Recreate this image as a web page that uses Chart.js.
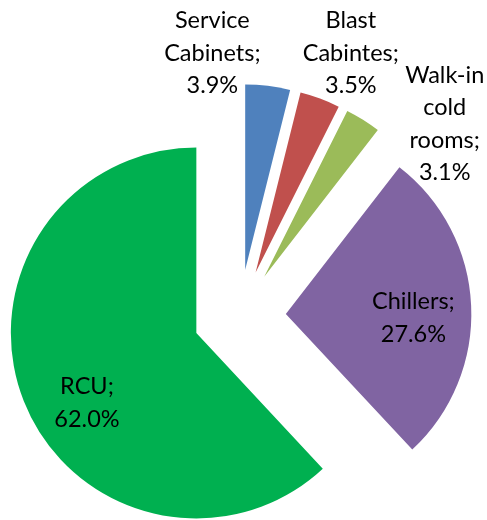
<!DOCTYPE html>
<html>
<head>
<meta charset="utf-8">
<script src="https://cdn.jsdelivr.net/npm/chart.js@4.4.1/dist/chart.umd.min.js"></script>
<style>
  html, body { margin: 0; padding: 0; background: #fff; }
  canvas { display: block; }
</style>
</head>
<body>
<canvas id="pieChart" width="487" height="520"></canvas>
<script>
// data
const categories = ['Service Cabinets', 'Blast Cabintes', 'Walk-in cold rooms', 'Chillers', 'RCU'];
const shares = [3.9, 3.5, 3.1, 27.6, 62.0];
const sliceColors = ['#4F81BD', '#C0504D', '#9BBB59', '#8064A2', '#00B050'];
// label text split in lines the way the picture wraps it
const labelLines = [
    ['Service', 'Cabinets;'],
    ['Blast', 'Cabintes;'],
    ['Walk-in', 'cold', 'rooms;'],
    ['Chillers;'],
    ['RCU;']
];

// every slice is pulled out by 25% of the radius
const explodeShare = 0.25;
// label spot: [angle clockwise from 12 o'clock, distance as part of radius] from the slice tip
const labelPlacement = [[351.4, 1.183], [23.45, 1.29], [49.75, 1.275], [91.8, 0.688], [237.4, 0.7]];
const labelFont = '23.5px Lato';
const lineHeight = 32.5;

const explodePlugin = {
    id: 'explode',
    beforeDatasetsDraw(chart) {
        chart.getDatasetMeta(0).data.forEach((arc) => {
            if (arc._pulled) return;
            const baseDraw = arc.draw;
            arc.draw = function (ctx, area) {
                const mid = (this.startAngle + this.endAngle) / 2;
                const pull = explodeShare * this.outerRadius;
                ctx.save();
                ctx.translate(Math.cos(mid) * pull, Math.sin(mid) * pull);
                baseDraw.call(this, ctx, area);
                ctx.restore();
            };
            arc._pulled = true;
        });
    },
    afterDatasetsDraw(chart) {
        const ctx = chart.ctx;
        ctx.save();
        ctx.font = labelFont;
        ctx.fillStyle = '#000';
        ctx.textAlign = 'center';
        ctx.textBaseline = 'middle';
        chart.getDatasetMeta(0).data.forEach((arc, i) => {
            const mid = (arc.startAngle + arc.endAngle) / 2;
            const pull = explodeShare * arc.outerRadius;
            const tipX = arc.x + Math.cos(mid) * pull;
            const tipY = arc.y + Math.sin(mid) * pull;
            const [deg, k] = labelPlacement[i];
            const a = (deg - 90) * Math.PI / 180;
            const lx = tipX + Math.cos(a) * k * arc.outerRadius;
            const ly = tipY + Math.sin(a) * k * arc.outerRadius;
            const lines = labelLines[i].concat(shares[i].toFixed(1) + '%');
            const top = ly - (lines.length - 1) * lineHeight / 2;
            lines.forEach((t, j) => ctx.fillText(t, lx, top + j * lineHeight));
        });
        ctx.restore();
    }
};

new Chart(document.getElementById('pieChart').getContext('2d'), {
    type: 'pie',
    data: {
        labels: categories,
        datasets: [{
            data: shares,
            backgroundColor: sliceColors,
            borderWidth: 0,
            clip: false
        }]
    },
    options: {
        responsive: false,
        animation: false,
        radius: 185.5,
        layout: { padding: { left: 0, right: 8, top: 112, bottom: 0 } },
        plugins: {
            legend: { display: false },
            tooltip: { enabled: false }
        }
    },
    plugins: [explodePlugin]
});
</script>
</body>
</html>
